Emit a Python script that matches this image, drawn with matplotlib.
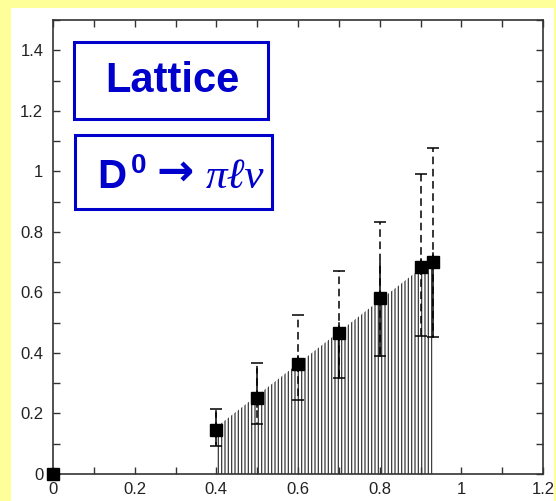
import matplotlib
matplotlib.use("Agg")
import matplotlib.pyplot as plt
from matplotlib.patches import Rectangle
from matplotlib.ticker import MultipleLocator, FuncFormatter

# q^2 points and form-factor values
q2 = [0.0, 0.4, 0.5, 0.6, 0.7, 0.8, 0.9, 0.93]
ff = [0.0, 0.145, 0.251, 0.365, 0.466, 0.580, 0.683, 0.701]
# total uncertainty range (dashed, capped)
tot_hi = [0.0, 0.214, 0.366, 0.525, 0.672, 0.833, 0.991, 1.078]
tot_lo = [0.0, 0.092, 0.164, 0.246, 0.316, 0.389, 0.457, 0.451]
# statistical range (solid)
stat_hi = [0.0, 0.200, 0.348, 0.390, 0.500, 0.700, 0.710, 0.730]
stat_lo = [0.0, 0.100, 0.220, 0.340, 0.316, 0.389, 0.660, 0.451]
# shaded band under the fit line
band_x = [0.4, 0.93]
band_top = [0.155, 0.71]

plt.rcParams["hatch.linewidth"] = 0.9

W, H = 556, 501
fig = plt.figure(figsize=(W / 100, H / 100), dpi=100)
fig.patch.set_facecolor("#FFFF99")


def fx(x):
    return x / W


def fy(y):
    return 1 - y / H


# white panel behind the plot
fig.patches.append(Rectangle((fx(11), 0), fx(554) - fx(11), fy(8),
                             transform=fig.transFigure, facecolor="white",
                             edgecolor="none", zorder=-5))

ax = fig.add_axes([fx(53), fy(474), fx(543) - fx(53), fy(20) - fy(474)])
ax.set_zorder(1)
ax.set_facecolor("white")
ax.set_xlim(0, 1.2)
ax.set_ylim(0, 1.5)

# stippled band: fine vertical hatching
ax.fill_between(band_x, 0, band_top, facecolor="none", edgecolor="#3a3a3a",
                hatch="|||||", linewidth=0, zorder=1)

pts = [i for i in range(len(q2)) if tot_hi[i] != tot_lo[i]]
for i in pts:
    x = q2[i]
    # dashed total error with caps
    ax.plot([x, x], [ff[i], tot_hi[i]], color="black", lw=1.1,
            ls=(0, (5, 3)), zorder=3)
    ax.plot([x, x], [ff[i], tot_lo[i]], color="black", lw=1.1,
            ls=(0, (5, 3)), zorder=3)
    # solid statistical part
    ax.plot([x, x], [stat_lo[i], stat_hi[i]], color="black", lw=1.1,
            ls="-", zorder=3)
    for yc in (tot_hi[i], tot_lo[i]):
        ax.plot([x], [yc], marker="_", ms=8, mew=1.1, color="black", zorder=3)

ax.plot(q2, ff, ls="none", marker="s", ms=8, color="black", zorder=4,
        clip_on=False)

ax.xaxis.set_major_locator(MultipleLocator(0.2))
ax.xaxis.set_minor_locator(MultipleLocator(0.1))
ax.yaxis.set_major_locator(MultipleLocator(0.2))
ax.yaxis.set_minor_locator(MultipleLocator(0.1))
fmt = FuncFormatter(lambda v, p: "%g" % round(v, 3))
ax.xaxis.set_major_formatter(fmt)
ax.yaxis.set_major_formatter(fmt)
ax.tick_params(which="both", direction="in", top=True, right=True,
               length=5, width=1.0, color="#333333")
ax.tick_params(axis="x", pad=6)
ax.tick_params(axis="y", pad=7)
for lab in ax.get_xticklabels() + ax.get_yticklabels():
    lab.set_family("Liberation Sans")
    lab.set_fontsize(12)
    lab.set_color("#222222")
for s in ax.spines.values():
    s.set_linewidth(1.2)
    s.set_color("#333333")

blue = "#0000CC"
# title boxes
fig.patches.append(Rectangle((fx(74), fy(119)), fx(268) - fx(74), fy(42) - fy(119),
                             transform=fig.transFigure, facecolor="white",
                             edgecolor=blue, lw=2.2, zorder=5))
fig.text(fx(172), fy(81), "Lattice", color=blue, fontsize=30,
         fontweight="bold", family="Liberation Sans", ha="center",
         va="center", zorder=6)

fig.patches.append(Rectangle((fx(75), fy(209)), fx(272) - fx(75), fy(135) - fy(209),
                             transform=fig.transFigure, facecolor="white",
                             edgecolor=blue, lw=2.2, zorder=5))
fig.text(fx(97), fy(188), "D", color=blue, fontsize=29, fontweight="bold",
         family="Liberation Sans", ha="left", va="baseline", zorder=6)
fig.text(fx(131), fy(173), "0", color=blue, fontsize=20, fontweight="bold",
         family="Liberation Sans", ha="left", va="baseline", zorder=6)
fig.text(fx(175), fy(172), "\u2192", color=blue, fontsize=32, fontweight="bold",
         family="DejaVu Sans", ha="center", va="center", zorder=6)
fig.text(fx(206), fy(188), "\u03c0\u2113\u03bd", color=blue, fontsize=31,
         style="italic", family=["Liberation Serif", "DejaVu Serif"],
         ha="left", va="baseline", zorder=6)

fig.savefig("out.png", dpi=100, facecolor=fig.get_facecolor())
